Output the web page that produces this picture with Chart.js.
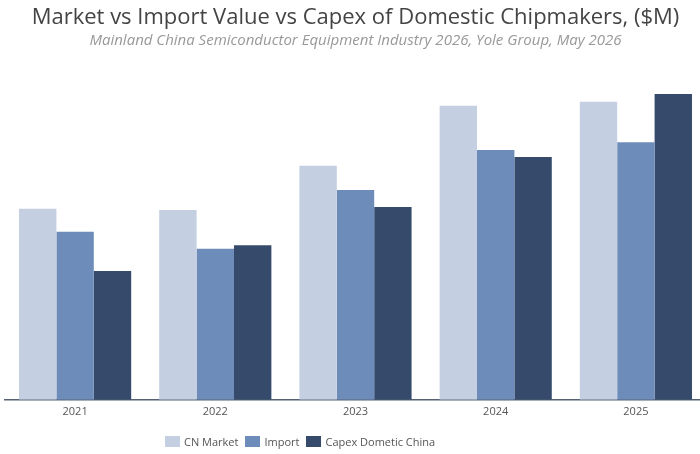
<!DOCTYPE html>
<html>
<head>
<meta charset="utf-8">
<script src="https://cdn.jsdelivr.net/npm/chart.js@4"></script>
<style>
  html, body { margin: 0; padding: 0; background: #fff; overflow: hidden; width: 700px; height: 454px; }
  #wrap { position: absolute; left: 0; top: 0; width: 706px; height: 454px; }
  #legend { position: absolute; left: 165px; top: 434px; display: flex; align-items: center; font-family: "Open Sans", sans-serif; font-size: 11px; color: #555; white-space: nowrap; }
  #legend .item { display: flex; align-items: center; margin-right: 7px; }
  #legend .box { width: 15px; height: 11px; margin-right: 4px; }
</style>
</head>
<body>
<div id="wrap"><canvas id="c"></canvas></div>
<div id="legend"></div>
<script>
const categories = ["2021", "2022", "2023", "2024", "2025"];
const cnMarket = [32500, 32300, 39800, 50000, 50700];
const importValue = [28600, 25700, 35700, 42500, 43800];
const capexDomestic = [21900, 26300, 32800, 41300, 52000];
const seriesNames = ["CN Market", "Import", "Capex Dometic China"];
const seriesColors = ["#c5cfe2", "#6e8cba", "#364b6c"];
const titleText = "Market vs Import Value vs Capex of Domestic Chipmakers, ($M)";
const subtitleText = "Mainland China Semiconductor Equipment Industry 2026, Yole Group, May 2026";

const chart = new Chart(document.getElementById('c'), {
  type: 'bar',
  data: {
    labels: categories,
    datasets: [cnMarket, importValue, capexDomestic].map((d, i) => ({
      label: seriesNames[i],
      data: d,
      backgroundColor: seriesColors[i],
      borderWidth: 0,
      categoryPercentage: 0.8,
      barPercentage: 1.0
    }))
  },
  options: {
    responsive: true,
    maintainAspectRatio: false,
    animation: false,
    layout: { padding: { left: 5, right: 0, top: 0, bottom: 31 } },
    plugins: {
      legend: { display: false },
      tooltip: { enabled: false },
      title: {
        display: true,
        text: titleText,
        color: '#444',
        font: { family: 'Open Sans', size: 22, weight: 'normal' },
        padding: { top: 4.5, bottom: 1 }
      },
      subtitle: {
        display: true,
        text: subtitleText,
        color: '#999',
        font: { family: 'Open Sans', size: 15, style: 'italic', weight: 'normal' },
        padding: { top: 0, bottom: 0.1 }
      }
    },
    scales: {
      x: {
        grid: { display: false, drawTicks: false },
        border: { display: true, color: '#556070', width: 1.5 },
        ticks: { color: '#555', font: { family: 'Open Sans', size: 11 }, padding: 5 }
      },
      y: {
        display: false,
        min: 0,
        max: 59500
      }
    }
  }
});

const legend = document.getElementById('legend');
chart.data.datasets.forEach(ds => {
  const item = document.createElement('div');
  item.className = 'item';
  const box = document.createElement('span');
  box.className = 'box';
  box.style.background = ds.backgroundColor;
  const t = document.createElement('span');
  t.textContent = ds.label;
  item.appendChild(box);
  item.appendChild(t);
  legend.appendChild(item);
});
</script>
</body>
</html>
